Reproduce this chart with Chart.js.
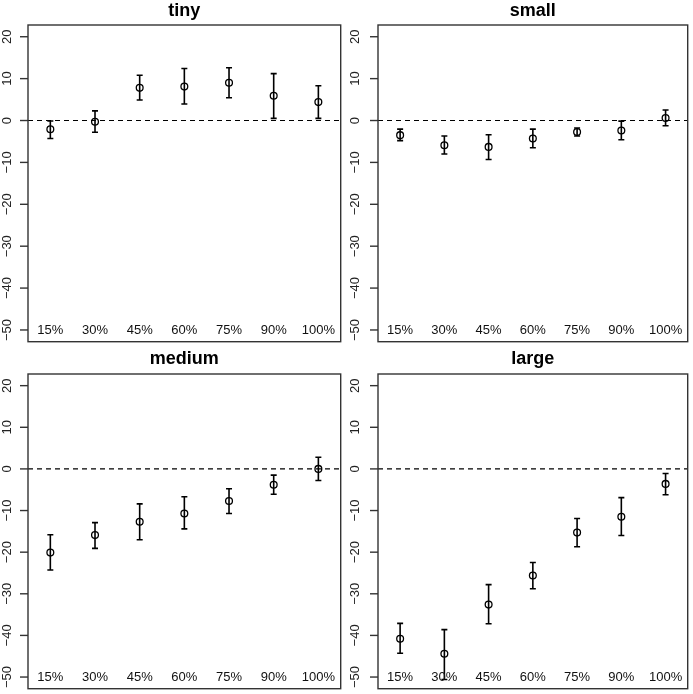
<!DOCTYPE html>
<html>
<head>
<meta charset="utf-8">
<script src="https://cdn.jsdelivr.net/npm/chart.js@4"></script>
<style>
  body { margin: 0; background: #fff; }
  #wrap { position: relative; width: 693px; height: 694px; }
  canvas { position: absolute; }
</style>
</head>
<body>
<div id="wrap">
  <canvas id="c0" width="346" height="347" style="left:0;top:0"></canvas>
  <canvas id="c1" width="347" height="347" style="left:346px;top:0"></canvas>
  <canvas id="c2" width="346" height="347" style="left:0;top:347px"></canvas>
  <canvas id="c3" width="347" height="347" style="left:346px;top:347px"></canvas>
</div>
<script>
// === data ===
const categories = ["15%", "30%", "45%", "60%", "75%", "90%", "100%"];
const panelTitles = ["tiny", "small", "medium", "large"];
const yTicks = [-50, -40, -30, -20, -10, 0, 10, 20];

// means
const tinyMean = [-2.1, -0.3, 7.8, 8.1, 9.0, 5.9, 4.4];
const smallMean = [-3.5, -5.9, -6.3, -4.3, -2.75, -2.4, 0.6];
const mediumMean = [-20.1, -15.9, -12.7, -10.7, -7.7, -3.8, 0.0];
const largeMean = [-40.8, -44.4, -32.6, -25.6, -15.3, -11.5, -3.6];

// lower / upper ends of the error bars
const tinyLow = [-4.3, -2.8, 4.9, 3.95, 5.45, 0.5, 0.5];
const tinyHigh = [-0.1, 2.3, 10.8, 12.4, 12.6, 11.2, 8.3];
const smallLow = [-4.8, -8.0, -9.3, -6.5, -3.7, -4.6, -1.25];
const smallHigh = [-2.05, -3.7, -3.4, -2.05, -1.8, -0.15, 2.5];
const mediumLow = [-24.3, -19.1, -17.0, -14.4, -10.7, -6.1, -2.8];
const mediumHigh = [-15.8, -12.9, -8.4, -6.7, -4.75, -1.5, 2.8];
const largeLow = [-44.3, -50.6, -37.2, -28.8, -18.7, -16.0, -6.2];
const largeHigh = [-37.1, -38.6, -27.8, -22.5, -11.9, -6.9, -1.1];

const refValue = 0;

const panels = [
  { id: "c0", title: panelTitles[0], mean: tinyMean, low: tinyLow, high: tinyHigh,
    pad: { left: 28, right: 4, top: 25, bottom: 3 }, labelGap: 20.5, titleY: 11 },
  { id: "c1", title: panelTitles[1], mean: smallMean, low: smallLow, high: smallHigh,
    pad: { left: 32, right: 1, top: 25, bottom: 3 }, labelGap: 23, titleY: 11 },
  { id: "c2", title: panelTitles[2], mean: mediumMean, low: mediumLow, high: mediumHigh,
    pad: { left: 28, right: 4, top: 27, bottom: 1 }, labelGap: 20.5, titleY: 12.5 },
  { id: "c3", title: panelTitles[3], mean: largeMean, low: largeLow, high: largeHigh,
    pad: { left: 32, right: 1, top: 27, bottom: 1 }, labelGap: 23, titleY: 12.5 },
];

const FONT = "'Liberation Sans', Arial, Helvetica, sans-serif";

// === plugin: box, y axis, category labels, error bars, title ===
const rStylePlugin = {
  id: "rStyle",
  afterDatasetsDraw(chart, args, opts) {
    const ctx = chart.ctx;
    const area = chart.chartArea;
    const xs = chart.scales.x;
    const ys = chart.scales.y;

    ctx.save();
    ctx.strokeStyle = "#000";

    // error bars with caps
    ctx.lineWidth = 1.6;
    opts.low.forEach((lo, i) => {
      const px = xs.getPixelForValue(i + 1);
      const pLo = ys.getPixelForValue(lo);
      const pHi = ys.getPixelForValue(opts.high[i]);
      ctx.beginPath();
      ctx.moveTo(px, pLo);
      ctx.lineTo(px, pHi);
      ctx.moveTo(px - 3, pLo);
      ctx.lineTo(px + 3, pLo);
      ctx.moveTo(px - 3, pHi);
      ctx.lineTo(px + 3, pHi);
      ctx.stroke();
    });

    // box
    ctx.strokeStyle = "#333";
    ctx.lineWidth = 1.4;
    ctx.strokeRect(area.left, area.top, area.right - area.left, area.bottom - area.top);

    // y ticks + rotated labels
    ctx.fillStyle = "#222";
    ctx.font = "13px " + FONT;
    ctx.textAlign = "center";
    ctx.textBaseline = "middle";
    yTicks.forEach((v) => {
      const py = ys.getPixelForValue(v);
      ctx.beginPath();
      ctx.moveTo(area.left - 8, py);
      ctx.lineTo(area.left, py);
      ctx.stroke();
      ctx.save();
      ctx.translate(area.left - opts.labelGap, py);
      ctx.rotate(-Math.PI / 2);
      ctx.fillText(String(v).replace("-", "\u2212"), 0, 0);
      ctx.restore();
    });

    // category labels inside the plot at y = -50
    ctx.fillStyle = "#111";
    const labelY = ys.getPixelForValue(yTicks[0]);
    categories.forEach((c, i) => {
      ctx.fillText(c, xs.getPixelForValue(i + 1), labelY);
    });

    // title
    ctx.fillStyle = "#000";
    ctx.font = "bold 18px " + FONT;
    ctx.fillText(opts.title, (area.left + area.right) / 2, opts.titleY);
    ctx.restore();
  },
};

// === build charts ===
panels.forEach((p) => {
  const xMin = 0.5;
  const xMax = categories.length + 0.5;
  new Chart(document.getElementById(p.id).getContext("2d"), {
    data: {
      datasets: [
        {
          type: "line",
          data: [{ x: xMin, y: refValue }, { x: xMax, y: refValue }],
          borderColor: "#000",
          borderWidth: 1.2,
          borderDash: [5, 4],
          pointRadius: 0,
        },
        {
          type: "scatter",
          data: p.mean.map((m, i) => ({ x: i + 1, y: m })),
          pointStyle: "circle",
          pointRadius: 3.4,
          borderWidth: 1.3,
          borderColor: "#000",
          backgroundColor: "rgba(0,0,0,0)",
        },
      ],
    },
    options: {
      responsive: false,
      animation: false,
      layout: { padding: p.pad },
      plugins: {
        legend: { display: false },
        tooltip: { enabled: false },
        rStyle: { low: p.low, high: p.high, title: p.title, labelGap: p.labelGap, titleY: p.titleY },
      },
      scales: {
        x: { type: "linear", min: xMin, max: xMax, display: false },
        y: { type: "linear", min: -52.8, max: 22.8, display: false },
      },
    },
    plugins: [rStylePlugin],
  });
});
</script>
</body>
</html>
